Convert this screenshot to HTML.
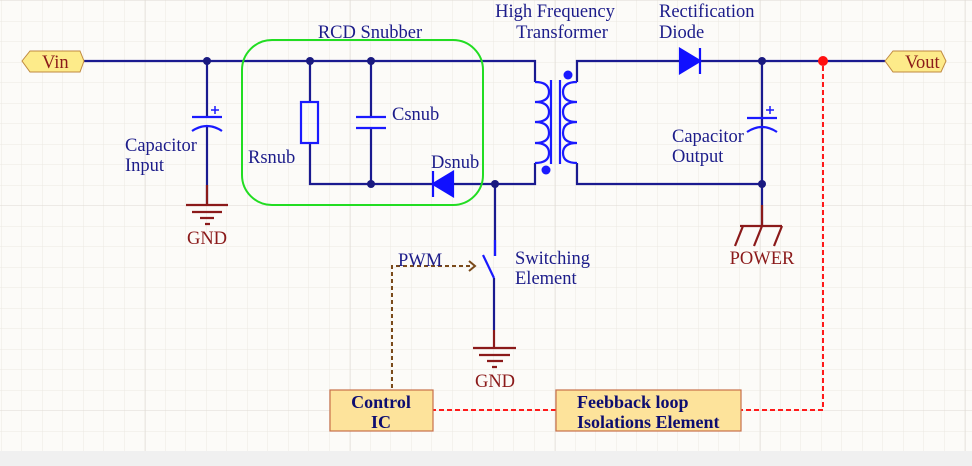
<!DOCTYPE html>
<html><head><meta charset="utf-8"><style>
html,body{margin:0;padding:0;background:#fcfbf8;}
svg{display:block}
text{font-family:"Liberation Serif",serif;font-size:18.5px;fill:#1c1c8a}
.r{fill:#8b1a1a}
.b{font-weight:bold;fill:#0d0d70;font-size:18px}
</style></head><body>
<svg width="972" height="466" viewBox="0 0 972 466" xmlns="http://www.w3.org/2000/svg">
<defs>
<pattern id="g" width="20.5" height="20.5" patternUnits="userSpaceOnUse" x="1" y="0.5">
<path d="M0 0H20.5M0 0V20.5" stroke="#ebe8e2" stroke-width="1" fill="none"/>
</pattern>
<pattern id="G" width="205" height="205" patternUnits="userSpaceOnUse" x="145" y="0.5">
<path d="M0 0H205M0 0V205" stroke="#dedad3" stroke-width="1" fill="none"/>
</pattern>
</defs>
<rect width="972" height="466" fill="#fcfbf8"/>
<rect width="972" height="466" fill="url(#g)"/>
<rect width="972" height="466" fill="url(#G)"/>
<rect x="0" y="451" width="972" height="15" fill="#f0f0f0"/>

<g stroke="#1a1a90" stroke-width="2.2" fill="none">
<path d="M82 61H535V82"/>
<path d="M577 82V61H680M700 61H885"/>
<path d="M207 61V117M207 127V205"/>
<path d="M310 61V102M310 143V184H433M453 184H535V163"/>
<path d="M371 61V117M371 128V184"/>
<path d="M495 184V256M494 278V330"/>
<path d="M577 163V184H762V61M762 184V225"/>
</g>
<g fill="#1a1a80">
<circle cx="207" cy="61" r="4"/><circle cx="310" cy="61" r="4"/><circle cx="371" cy="61" r="4"/>
<circle cx="371" cy="184" r="4"/><circle cx="495" cy="184" r="4"/>
<circle cx="762" cy="61" r="4"/><circle cx="762" cy="184" r="4"/>
</g>
<circle cx="823" cy="61" r="5" fill="#ff1010"/>

<g stroke="#1a1aff" stroke-width="2.2" fill="none">
<path d="M192 117H222M192 131Q207 121 222 131"/>
<path d="M747 118H777M747 132Q762 122 777 132"/>
<path d="M356 117H386M356 128H386"/>
<rect x="301" y="102" width="17" height="41"/>
<path d="M211 110H219M215 106V114M766 110H774M770 106V114" stroke-width="1.5"/>
<path d="M535 82Q549 82 549 92Q549 102 535 102Q549 102 549 112Q549 122 535 122Q549 122 549 133Q549 143 535 143Q549 143 549 153Q549 163 535 163"/>
<path d="M577 82Q563 82 563 92Q563 102 577 102Q563 102 563 112Q563 122 577 122Q563 122 563 133Q563 143 577 143Q563 143 563 153Q563 163 577 163"/>
<path d="M551 80V164M560 80V164"/>
<path d="M495 240V256M483 255L494 278"/>
</g>
<circle cx="568" cy="75" r="4.5" fill="#1a1aff"/>
<circle cx="546" cy="170" r="4.5" fill="#1a1aff"/>
<g fill="#1010ff" stroke="#1010ff" stroke-width="2.2">
<path d="M453 172L433 184L453 196Z"/><path d="M433 171V197"/>
<path d="M680 49L700 61L680 73Z"/><path d="M700 48V74"/>
</g>

<g stroke="#8b1a1a" stroke-width="2.2" fill="none">
<path d="M207 185V205M186 205H228M192 212H222M200 218H214M205 224H210"/>
<path d="M494 330V348M473 348H516M479 355H510M487 361H503M492 367H497"/>
<path d="M762 205V226M740 226H782M782 226L774 246M762 226L754 246M743 226L735 246"/>
</g>

<rect x="242" y="40" width="241" height="165" rx="30" fill="none" stroke="#22dd22" stroke-width="2"/>

<g fill="#fdeb8a" stroke="#c08a40" stroke-width="1">
<path d="M22 61L30 51H80L84 61L80 72H30Z"/>
<path d="M885 61L893 51H941L946 61L941 72H893Z"/>
</g>
<text x="42" y="68" class="r">Vin</text>
<text x="905" y="68" class="r">Vout</text>

<path d="M392 388V266H473" stroke="#7a4a1a" stroke-width="2" stroke-dasharray="4,3" fill="none"/>
<path d="M469 261L475 266L469 271" stroke="#7a4a1a" stroke-width="2" fill="none"/>
<path d="M823 66V410H741M556 410H433" stroke="#ff1a1a" stroke-width="2" stroke-dasharray="5,3" fill="none"/>

<rect x="330" y="390" width="103" height="41" fill="#fde39b" stroke="#c8704a" stroke-width="1.2"/>
<rect x="556" y="390" width="185" height="41" fill="#fde39b" stroke="#c8704a" stroke-width="1.2"/>
<text x="381" y="408" text-anchor="middle" class="b">Control</text>
<text x="381" y="428" text-anchor="middle" class="b">IC</text>
<text x="577" y="408" class="b">Feebback loop</text>
<text x="577" y="428" class="b">Isolations Element</text>

<text x="370" y="38" text-anchor="middle">RCD Snubber</text>
<text x="555" y="17" text-anchor="middle">High Frequency</text>
<text x="562" y="38" text-anchor="middle">Transformer</text>
<text x="659" y="17">Rectification</text>
<text x="659" y="38">Diode</text>
<text x="672" y="142">Capacitor</text>
<text x="672" y="162">Output</text>
<text x="125" y="151">Capacitor</text>
<text x="125" y="171">Input</text>
<text x="248" y="163">Rsnub</text>
<text x="392" y="120">Csnub</text>
<text x="431" y="168">Dsnub</text>
<text x="398" y="266">PWM</text>
<text x="515" y="264">Switching</text>
<text x="515" y="284">Element</text>
<text x="207" y="244" text-anchor="middle" class="r">GND</text>
<text x="495" y="387" text-anchor="middle" class="r">GND</text>
<text x="762" y="264" text-anchor="middle" class="r">POWER</text>
</svg>
</body></html>
